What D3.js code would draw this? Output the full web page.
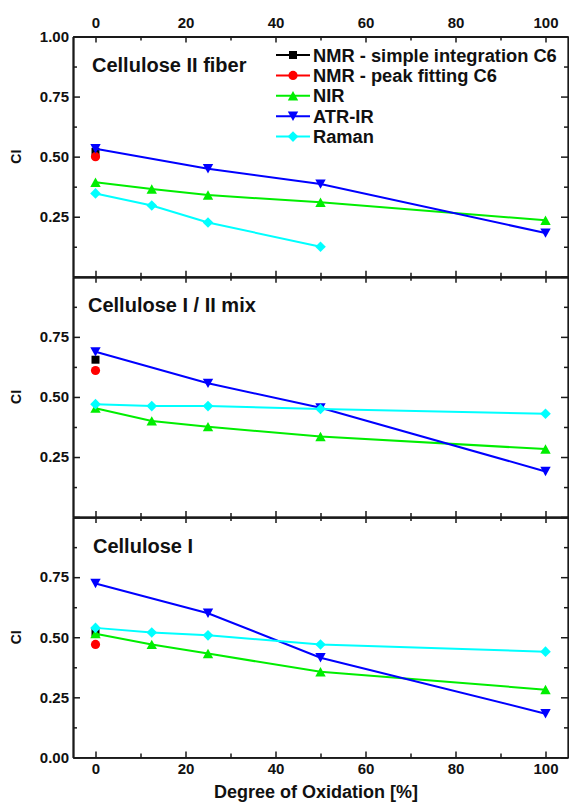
<!DOCTYPE html>
<html>
<head>
<meta charset="utf-8">
<script src="https://cdn.jsdelivr.net/npm/d3@7"></script>
<style>
  body { margin: 0; background: #fff; }
  svg { display: block; font-family: Arial, "Liberation Sans", sans-serif; font-weight: bold; }
</style>
</head>
<body>
<svg id="chart" width="569" height="804"></svg>
<script>
// ---- data ----
var panelNames = ["Cellulose II fiber", "Cellulose I / II mix", "Cellulose I"];
var oxidation = [0, 12.5, 25, 50, 100];
var atrOxidation = [0, 25, 50, 100];
var ramanOxidationTop = [0, 12.5, 25, 50];

var nmrSimple = [0.52, 0.655, 0.52];
var nmrPeak = [0.50, 0.61, 0.47];
var nir = [
    [0.393, 0.365, 0.34, 0.31, 0.235],
    [0.453, 0.40, 0.376, 0.335, 0.283],
    [0.515, 0.47, 0.432, 0.356, 0.282]
];
var atr = [
    [0.533, 0.45, 0.386, 0.182],
    [0.688, 0.557, 0.455, 0.19],
    [0.724, 0.60, 0.415, 0.182]
];
var raman = [
    [0.347, 0.297, 0.226, 0.125],
    [0.47, 0.462, 0.462, 0.45, 0.43],
    [0.539, 0.52, 0.508, 0.47, 0.44]
];

var xTicks = [0, 20, 40, 60, 80, 100];
var xMinor = [10, 30, 50, 70, 90];
var yTicks = [0, 0.25, 0.5, 0.75, 1];
var yMinor = [0.125, 0.375, 0.625, 0.875];
var yLabelled = [[0.25, 0.5, 0.75, 1], [0.25, 0.5, 0.75], [0, 0.25, 0.5, 0.75]];

var legendNames = ["NMR - simple integration C6", "NMR - peak fitting C6", "NIR", "ATR-IR", "Raman"];
var colors = ["#000000", "#ff0000", "#00ee00", "#0000ff", "#00ffff"];
var shapes = ["square", "circle", "up", "down", "diamond"];

// ---- layout ----
var left = 73, right = 568;
var panelTop = 36.5, panelH = 240.3;

var svg = d3.select("#chart");
var x = d3.scaleLinear().domain([-5, 105]).range([left, right]);

function markerPath(shape) {
    switch (shape) {
        case "square": return "M-4,-4H4V4H-4Z";
        case "circle": return "M4.6,0A4.6,4.6 0 1,1 -4.6,0A4.6,4.6 0 1,1 4.6,0Z";
        case "up": return "M0,-4.8L5.2,4.6L-5.2,4.6Z";
        case "down": return "M0,4.8L5.2,-4.6L-5.2,-4.6Z";
        case "diamond": return "M0,-5.3L5.3,0L0,5.3L-5.3,0Z";
    }
}

function series(g, y, xs, ys, k, withLine) {
    var pts = xs.map(function(d, i){ return [d, ys[i]]; });
    if (withLine) {
        g.append("path")
            .datum(pts)
            .attr("fill", "none")
            .attr("stroke", colors[k])
            .attr("stroke-width", 2)
            .attr("d", d3.line().x(function(d){ return x(d[0]); }).y(function(d){ return y(d[1]); }));
    }
    g.selectAll(null).data(pts).enter().append("path")
        .attr("transform", function(d){ return "translate(" + x(d[0]) + "," + y(d[1]) + ")"; })
        .attr("d", markerPath(shapes[k]))
        .attr("fill", colors[k]);
}

function styleAxis(sel) {
    sel.select(".domain").attr("stroke", "#1a1a1a").attr("stroke-width", 1.8);
    sel.selectAll(".tick line").attr("stroke", "#1a1a1a").attr("stroke-width", 1.5);
    sel.selectAll(".tick text")
        .attr("font-size", 15).attr("font-weight", "bold")
        .attr("font-family", "Arial, 'Liberation Sans', sans-serif").attr("fill", "#111");
}

panelNames.forEach(function(name, p) {
    var top = panelTop + p * panelH, bottom = top + panelH;
    var y = d3.scaleLinear().domain([0, 1]).range([bottom, top]);
    var g = svg.append("g");

    // data
    series(g, y, [0], [nmrSimple[p]], 0, false);
    series(g, y, [0], [nmrPeak[p]], 1, false);
    series(g, y, oxidation, nir[p], 2, true);
    series(g, y, atrOxidation, atr[p], 3, true);
    series(g, y, p === 0 ? ramanOxidationTop : oxidation, raman[p], 4, true);

    // axes
    var lab = yLabelled[p];
    var yl = g.append("g").attr("transform", "translate(" + left + ",0)")
        .call(d3.axisLeft(y).tickValues(yTicks).tickSizeInner(-7).tickSizeOuter(0).tickPadding(4)
            .tickFormat(function(d){ return lab.indexOf(d) >= 0 ? d3.format(".2f")(d) : ""; }));
    styleAxis(yl);
    var ylm = g.append("g").attr("transform", "translate(" + left + ",0)")
        .call(d3.axisLeft(y).tickValues(yMinor).tickSizeInner(-4).tickSizeOuter(0).tickFormat(""));
    styleAxis(ylm);
    var yr = g.append("g").attr("transform", "translate(" + right + ",0)")
        .call(d3.axisRight(y).tickValues(yTicks).tickSizeInner(-7).tickSizeOuter(0).tickFormat(""));
    styleAxis(yr);
    var yrm = g.append("g").attr("transform", "translate(" + right + ",0)")
        .call(d3.axisRight(y).tickValues(yMinor).tickSizeInner(-4).tickSizeOuter(0).tickFormat(""));
    styleAxis(yrm);

    var xt = g.append("g").attr("transform", "translate(0," + top + ")")
        .call(d3.axisTop(x).tickValues(xTicks).tickSizeInner(-6).tickSizeOuter(0).tickPadding(9)
            .tickFormat(p === 0 ? d3.format("d") : ""));
    styleAxis(xt);
    var xtm = g.append("g").attr("transform", "translate(0," + top + ")")
        .call(d3.axisTop(x).tickValues(xMinor).tickSizeInner(-4).tickSizeOuter(0).tickFormat(""));
    styleAxis(xtm);
    var xb = g.append("g").attr("transform", "translate(0," + bottom + ")")
        .call(d3.axisBottom(x).tickValues(xTicks).tickSizeInner(-6).tickSizeOuter(0).tickPadding(6)
            .tickFormat(p === 2 ? d3.format("d") : ""));
    styleAxis(xb);
    var xbm = g.append("g").attr("transform", "translate(0," + bottom + ")")
        .call(d3.axisBottom(x).tickValues(xMinor).tickSizeInner(-4).tickSizeOuter(0).tickFormat(""));
    styleAxis(xbm);

    // panel title
    g.append("text")
        .attr("x", [92, 88, 93][p])
        .attr("y", top + 35.5)
        .attr("font-size", 20)
        .attr("fill", "#111")
        .text(name);

    // y axis title
    g.append("text")
        .attr("transform", "translate(21," + (top + panelH / 2) + ") rotate(-90)")
        .attr("text-anchor", "middle")
        .attr("font-size", 14)
        .attr("fill", "#111")
        .text("CI");
});

// legend
var legend = svg.append("g").attr("transform", "translate(276,55)");
legendNames.forEach(function(name, k) {
    var row = legend.append("g").attr("transform", "translate(0," + (k * 20.4) + ")");
    row.append("line").attr("x1", 0).attr("x2", 34).attr("y1", 0).attr("y2", 0)
        .attr("stroke", colors[k]).attr("stroke-width", 2);
    row.append("path").attr("transform", "translate(17,0)").attr("d", markerPath(shapes[k]))
        .attr("fill", colors[k]);
    row.append("text").attr("x", 37).attr("y", 0).attr("dy", "0.36em")
        .attr("font-size", 18.3).attr("fill", "#111").text(name);
});

// x axis title
svg.append("text")
    .attr("x", 316)
    .attr("y", 798)
    .attr("text-anchor", "middle")
    .attr("font-size", 18)
    .attr("fill", "#111")
    .text("Degree of Oxidation [%]");
</script>
</body>
</html>
